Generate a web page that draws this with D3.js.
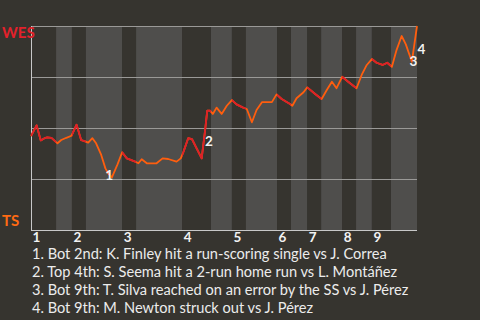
<!DOCTYPE html>
<meta charset="utf-8">
<style>
    body { margin: 0; background: #36342f; }
    svg { display: block; font-family: Lato, "Open Sans", sans-serif; }
</style>
<body>
<script src="https://d3js.org/d3.v7.min.js"></script>
<script>

    // game progress (play units) and WES win probability after each play
    var playX = [0, 1.2, 2.1, 2.9, 3.5, 4.4, 5.7, 6.5, 7.6, 8.7,
        9.8, 10.8, 11.5, 12.3, 13.2, 14.0, 15.1, 16.0, 16.6, 17.4,
        18.6, 19.6, 20.6, 22.4, 23.1, 23.8, 24.9, 27.0, 28.3, 29.5,
        31.3, 32.2, 32.8, 33.8, 34.6, 36.7, 37.4, 37.9, 38.5, 39.1,
        39.9, 41.0, 42.1, 43.2, 44.2, 45.5, 46.4, 47.5, 48.5, 49.7,
        51.8, 52.8, 53.9, 55.7, 56.2, 57.1, 58.6, 59.4, 61.1, 62.5,
        63.6, 64.7, 65.7, 66.9, 68.2, 69.3, 70.0, 71.1, 72.2, 73.3,
        74.3, 75.6, 76.6, 77.6, 78.6, 79.7, 80.6, 81.9, 83.0];

    var winProb = [0.461, 0.513, 0.439, 0.450, 0.454, 0.452, 0.425, 0.441, 0.452, 0.462,
        0.516, 0.440, 0.436, 0.428, 0.450, 0.425, 0.368, 0.302, 0.278, 0.258,
        0.322, 0.381, 0.351, 0.335, 0.327, 0.347, 0.327, 0.327, 0.351, 0.348,
        0.335, 0.351, 0.384, 0.450, 0.446, 0.351, 0.482, 0.585, 0.585, 0.569,
        0.600, 0.569, 0.609, 0.637, 0.616, 0.601, 0.593, 0.528, 0.588, 0.627,
        0.627, 0.665, 0.642, 0.618, 0.609, 0.646, 0.675, 0.699, 0.667, 0.642,
        0.686, 0.727, 0.695, 0.751, 0.727, 0.707, 0.695, 0.760, 0.809, 0.838,
        0.820, 0.809, 0.820, 0.800, 0.882, 0.951, 0.910, 0.825, 1.0];

    // start of each half inning (top 1st, bot 1st, ...), and game end
    var halfStarts = [0, 5.4, 8.8, 11.8, 19.6, 22.6, 32.5, 38.7, 43.2, 46.2,
        52.9, 55.9, 59.4, 62.4, 66.9, 69.9, 73.3, 77.4];
    var gameEnd = 83;

    var innings = ["1", "2", "3", "4", "5", "6", "7", "8", "9"];
    var gridTicks = [0, 0.25, 0.5, 0.75, 1];

    var teams = ["WES", "TS"];

    // index of the play each note refers to
    var eventPlays = [18, 36, 77, 78];
    var notes = [
        "1. Bot 2nd: K. Finley hit a run-scoring single vs J. Correa",
        "2. Top 4th: S. Seema hit a 2-run home run vs L. Montáñez",
        "3. Bot 9th: T. Silva reached on an error by the SS vs J. Pérez",
        "4. Bot 9th: M. Newton struck out vs J. Pérez"
    ];

    var width = 480,
        height = 320;

    var red = "#dd1f28",
        orange = "#ff5e0e";

    var x = d3.scaleLinear().domain([0, gameEnd]).range([31, 417]);
    var y = d3.scaleLinear().domain([0, 1]).range([230, 26]);

    var svg = d3.select("body").append("svg")
        .attr("width", width)
        .attr("height", height);

    svg.append("rect")
        .attr("width", width)
        .attr("height", height)
        .attr("fill", "#36342f");

    var halves = halfStarts.map(function(s, i) {
        return { start: s, end: i < halfStarts.length - 1 ? halfStarts[i + 1] : gameEnd, top: i % 2 === 0 };
    });

    // half inning bands
    svg.append("g").selectAll("rect")
        .data(halves)
        .enter().append("rect")
        .attr("x", function(d) { return x(d.start); })
        .attr("y", y(1))
        .attr("width", function(d) { return x(d.end) - x(d.start); })
        .attr("height", y(0) - y(1))
        .attr("fill", function(d) { return d.top ? "#36342f" : "#4f4e4c"; });

    // grid
    svg.append("g").selectAll("line")
        .data(gridTicks)
        .enter().append("line")
        .attr("x1", x(0))
        .attr("x2", x(gameEnd))
        .attr("y1", function(d) { return Math.round(y(d)) + 0.5; })
        .attr("y2", function(d) { return Math.round(y(d)) + 0.5; })
        .attr("stroke", function(d) { return d === 0 ? "#c8c8c8" : "#9a9997"; })
        .attr("stroke-width", 1);

    svg.append("line")
        .attr("x1", x(0) + 0.5).attr("x2", x(0) + 0.5)
        .attr("y1", y(1)).attr("y2", y(0) + 1)
        .attr("stroke", "#c8c8c8");

    // clip for top halves (WES batting) in red
    var clip = svg.append("defs").append("clipPath").attr("id", "tops");
    clip.selectAll("rect")
        .data(halves.filter(function(d) { return d.top; }))
        .enter().append("rect")
        .attr("x", function(d) { return x(d.start); })
        .attr("y", 0)
        .attr("width", function(d) { return x(d.end) - x(d.start); })
        .attr("height", height);

    var points = playX.map(function(v, i) { return [v, winProb[i]]; });

    var line = d3.line()
        .x(function(d) { return x(d[0]); })
        .y(function(d) { return y(d[1]); });

    svg.append("path")
        .datum(points)
        .attr("d", line)
        .attr("fill", "none")
        .attr("stroke", orange)
        .attr("stroke-width", 1.8)
        .attr("stroke-linejoin", "round");

    svg.append("path")
        .datum(points)
        .attr("d", line)
        .attr("clip-path", "url(#tops)")
        .attr("fill", "none")
        .attr("stroke", red)
        .attr("stroke-width", 1.8)
        .attr("stroke-linejoin", "round");

    // event markers
    var markOffset = [[1, 2], [4, 10], [1.5, 0], [4.5, 23]];
    svg.append("g").selectAll("text")
        .data(eventPlays)
        .enter().append("text")
        .attr("x", function(d, i) { return x(playX[d]) + markOffset[i][0]; })
        .attr("y", function(d, i) { return y(winProb[d]) + markOffset[i][1]; })
        .attr("dy", "0.35em")
        .attr("text-anchor", "middle")
        .attr("fill", "#f2f2f2")
        .attr("font-weight", "bold")
        .attr("font-size", 13.5)
        .text(function(d, i) { return i + 1; });

    // team labels
    svg.append("text")
        .attr("x", 2).attr("y", 38)
        .attr("fill", "#e3212b")
        .attr("font-weight", "bold")
        .attr("font-size", 15)
        .text(teams[0]);

    svg.append("text")
        .attr("x", 2).attr("y", 226)
        .attr("fill", "#ff6a13")
        .attr("font-weight", "bold")
        .attr("font-size", 15)
        .text(teams[1]);

    // inning labels
    svg.append("g").selectAll("text")
        .data(innings)
        .enter().append("text")
        .attr("x", function(d, i) { return x(halfStarts[i * 2]) + 1.5; })
        .attr("y", 242)
        .attr("fill", "#f2f2f2")
        .attr("font-weight", "bold")
        .attr("font-size", 13.5)
        .text(function(d) { return d; });

    // notes
    svg.append("g").selectAll("text")
        .data(notes)
        .enter().append("text")
        .attr("x", 32)
        .attr("y", function(d, i) { return 259 + i * 18; })
        .attr("fill", "#ececec")
        .attr("font-size", 14.6)
        .text(function(d) { return d; });

</script>
